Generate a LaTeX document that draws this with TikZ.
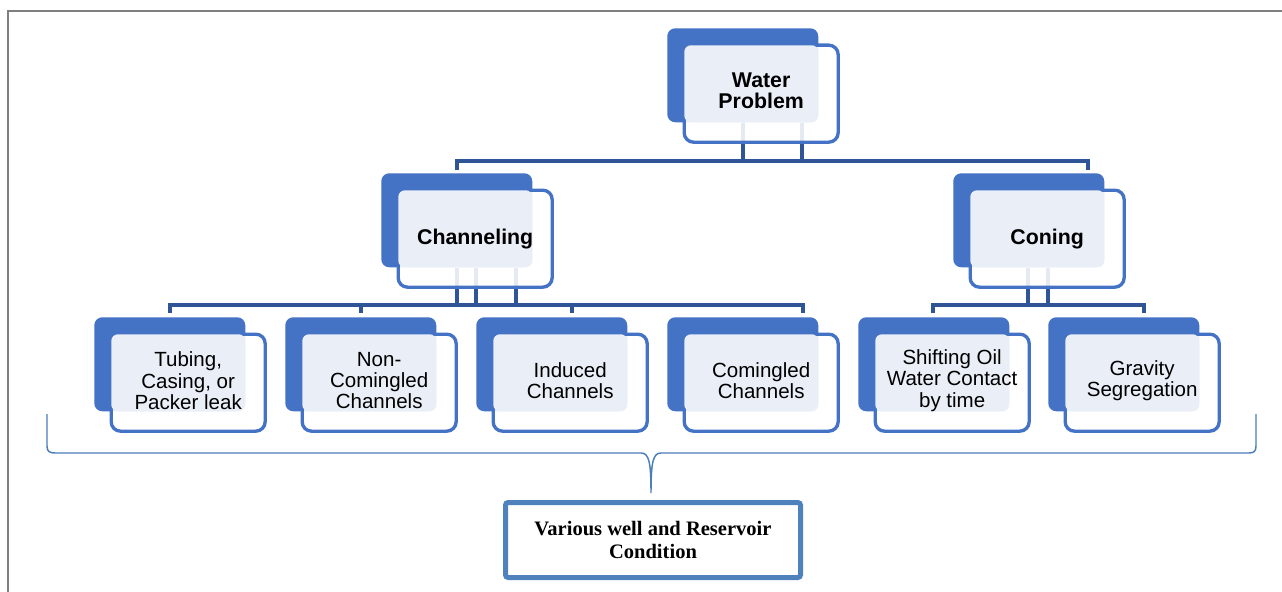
\documentclass[tikz,border=0pt]{standalone}
\usepackage{fontspec}
\setmainfont{Liberation Sans}
\newfontfamily\timesfont{Liberation Serif}
\usepackage{xcolor}
\usetikzlibrary{backgrounds}

\definecolor{boxblue}{HTML}{4472C4}
\definecolor{paleblue}{HTML}{E9EEF7}
\definecolor{linkblue}{HTML}{2F5597}
\definecolor{braceblue}{HTML}{4A7EBB}
\definecolor{condblue}{HTML}{4F81BD}
\definecolor{framegray}{HTML}{7F7F7F}

\begin{document}
\begin{tikzpicture}[x=0.75pt, y=-0.75pt,
    backbox/.style={rectangle, rounded corners=6pt, fill=boxblue, anchor=north west,
        minimum width=113.25pt, minimum height=70.5pt, inner sep=0pt},
    frontbox/.style={rectangle, rounded corners=7pt, draw=boxblue, line width=2.5pt,
        fill=white, fill opacity=0.88, anchor=north west,
        minimum width=115.5pt, minimum height=72.75pt, inner sep=0pt},
    palebox/.style={rectangle, rounded corners=5pt, fill=paleblue, anchor=north west,
        minimum width=100.5pt, minimum height=57.75pt, inner sep=0pt},
    itemtext/.style={align=center, text=black, font=\fontsize{15.4}{16}\selectfont},
    headtext/.style={itemtext, font=\fontsize{16}{16}\selectfont\bfseries},
    link/.style={draw=linkblue, line width=2.6pt},
    brace/.style={draw=braceblue, line width=1.1pt},
    condbox/.style={rectangle, rounded corners=2pt, draw=condblue, line width=3.75pt,
        minimum width=221.25pt, minimum height=56.25pt, align=center,
        font=\timesfont\bfseries\fontsize{15.4}{17}\selectfont}]

    \useasboundingbox (0,0) rectangle (1282,592);
    \draw[framegray, line width=1.5pt] (8,592) -- (8,11) -- (1282,11);

    % top
    \node[backbox] (wpB) at (667,28) {};
    \node[frontbox] (wpF) at (682.5,43.5) {};
    \node[palebox] (wpP) at (684,45) {};
    \node[headtext] (wpT) at ([yshift=2pt]wpF.center) {Water\\Problem};

    % second row
    \node[backbox] (chB) at (381,173) {};
    \node[frontbox] (chF) at (396.5,188.5) {};
    \node[palebox] (chP) at (398,190) {};
    \node[headtext] (chT) at (chF.center) {Channeling};

    \node[backbox] (cnB) at (953,173) {};
    \node[frontbox] (cnF) at (968.5,188.5) {};
    \node[palebox] (cnP) at (970,190) {};
    \node[headtext] (cnT) at (cnF.center) {Coning};

    % third row
    \node[backbox] (tbB) at (94,317) {};
    \node[frontbox] (tbF) at (109.5,332.5) {};
    \node[palebox] (tbP) at (111,334) {};
    \node[itemtext] (tbT) at ([yshift=1.5pt]tbF.center) {Tubing,\\Casing, or\\Packer leak};

    \node[backbox] (ncB) at (285,317) {};
    \node[frontbox] (ncF) at (300.5,332.5) {};
    \node[palebox] (ncP) at (302,334) {};
    \node[itemtext] (ncT) at ([yshift=1.5pt]ncF.center) {Non-\\Comingled\\Channels};

    \node[backbox] (inB) at (476,317) {};
    \node[frontbox] (inF) at (491.5,332.5) {};
    \node[palebox] (inP) at (493,334) {};
    \node[itemtext] (inT) at ([yshift=1.5pt]inF.center) {Induced\\Channels};

    \node[backbox] (cmB) at (667,317) {};
    \node[frontbox] (cmF) at (682.5,332.5) {};
    \node[palebox] (cmP) at (684,334) {};
    \node[itemtext] (cmT) at ([yshift=1.5pt]cmF.center) {Comingled\\Channels};

    \node[backbox] (soB) at (858,317) {};
    \node[frontbox] (soF) at (873.5,332.5) {};
    \node[palebox] (soP) at (875,334) {};
    \node[itemtext] (soT) at ([yshift=1.5pt]soF.center) {Shifting Oil\\Water Contact\\by time};

    \node[backbox] (gsB) at (1048,317) {};
    \node[frontbox] (gsF) at (1063.5,332.5) {};
    \node[palebox] (gsP) at (1065,334) {};
    \node[itemtext] (gsT) at ([yshift=1.5pt]gsF.center) {Gravity\\Segregation};

    % bottom
    \node[condbox] (cond) at (653,540) {Various well and Reservoir\\Condition};

    \begin{scope}[on background layer]
        \coordinate (wpL) at (457,161);
        \coordinate (wpR) at (1088,161);
        \draw[link] (743,0 |- wpB.south) -- (743,0 |- wpL);
        \draw[link] (802,0 |- wpB.south) -- (802,0 |- wpL);
        \draw[link] ([yshift=-6.75pt]wpL) -- (wpL) -- (wpR) -- ([yshift=-6.75pt]wpR);

        \coordinate (chL) at (170,305);
        \coordinate (chR) at (803,305);
        \draw[link] (457,0 |- chB.south) -- (457,0 |- chL);
        \draw[link] (476,0 |- chB.south) -- (476,0 |- chL);
        \draw[link] (516,0 |- chB.south) -- (516,0 |- chL);
        \draw[link] ([yshift=-6pt]chL) -- (chL) -- (chR) -- ([yshift=-6pt]chR);
        \draw[link] (361,0 |- chL) -- ++(0,8);
        \draw[link] (572,0 |- chL) -- ++(0,8);

        \coordinate (cnL) at (933,305);
        \coordinate (cnR) at (1144,305);
        \draw[link] (1028,0 |- cnB.south) -- (1028,0 |- cnL);
        \draw[link] (1048,0 |- cnB.south) -- (1048,0 |- cnL);
        \draw[link] ([yshift=-6pt]cnL) -- (cnL) -- (cnR) -- ([yshift=-6pt]cnR);
    \end{scope}

    \draw[brace] (47,414) -- (47,446) .. controls (47,451) and (49,453) .. (55,453)
        -- (641,453) .. controls (649,453) and (651,462) .. (651,493)
        .. controls (651,462) and (653,453) .. (661,453)
        -- (1249,453) .. controls (1254,453) and (1256,451) .. (1256,446) -- (1256,414);
\end{tikzpicture}
\end{document}
